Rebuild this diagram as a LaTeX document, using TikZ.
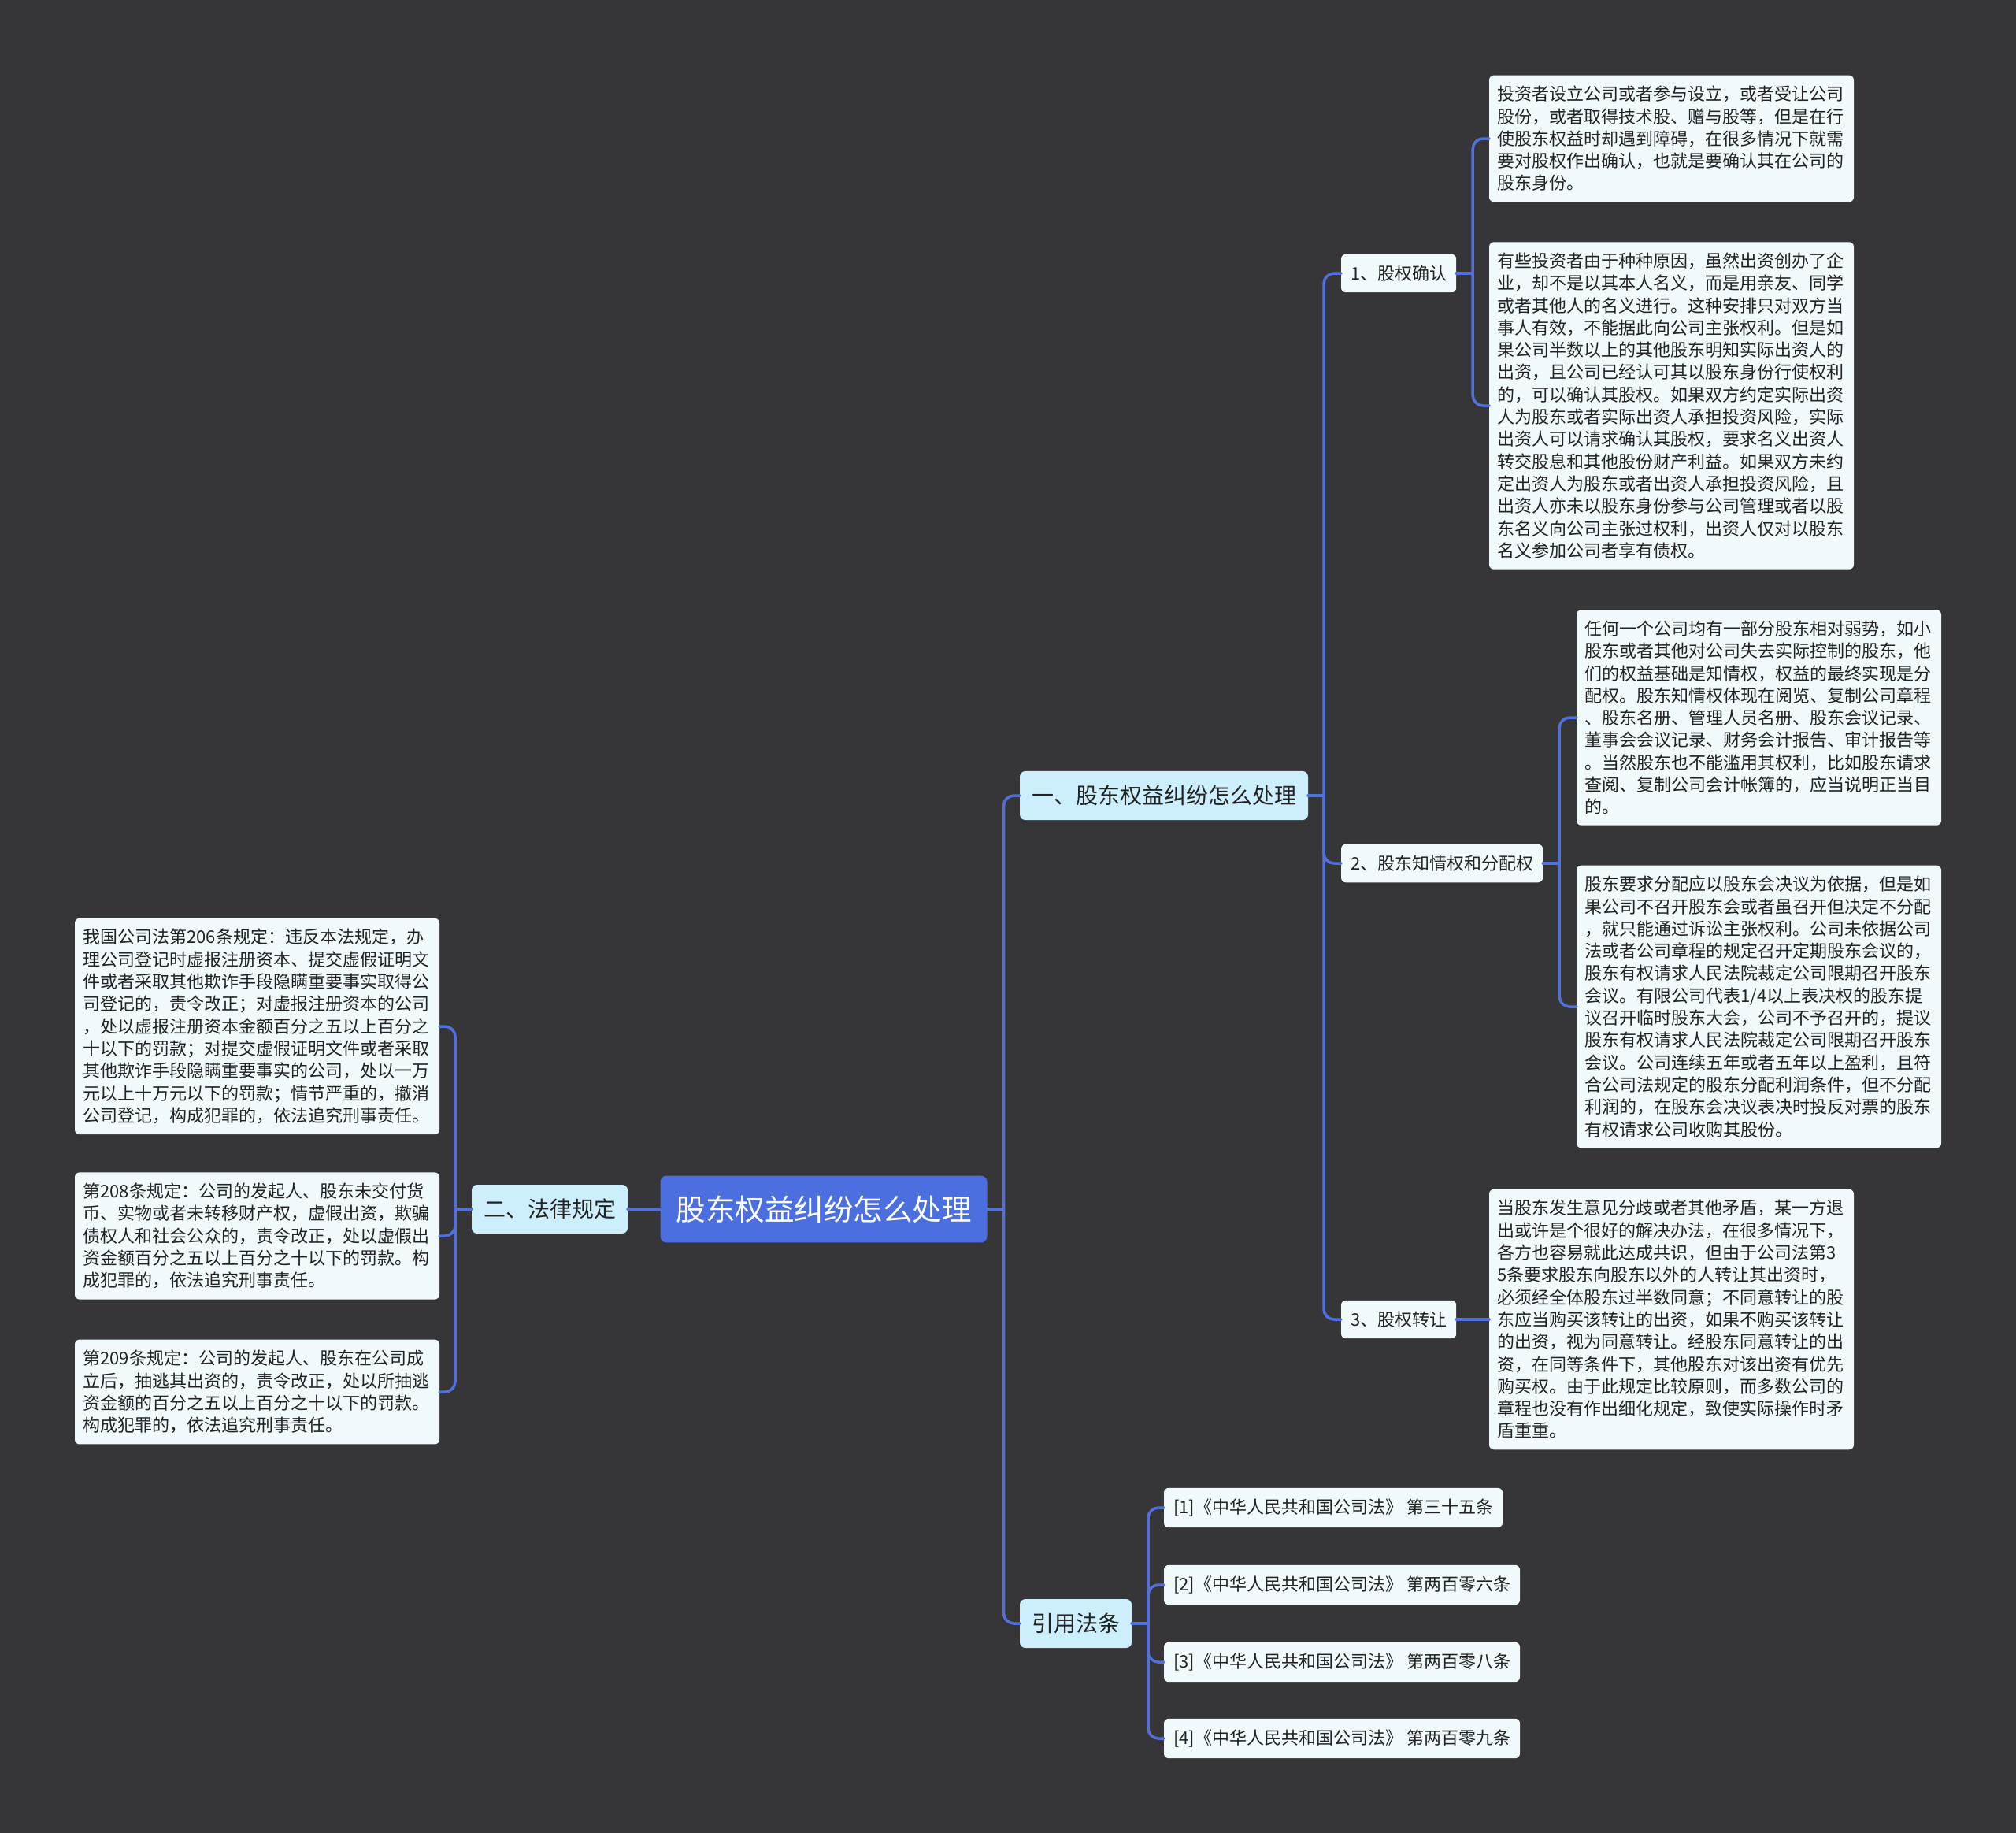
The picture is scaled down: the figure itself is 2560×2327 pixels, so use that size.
\documentclass[tikz,border=0pt]{standalone}
\usepackage{fontspec}
\setmainfont{Noto Sans CJK SC}
\usepackage{xcolor}
\definecolor{map-bg}{HTML}{363537}
\definecolor{map-blue}{HTML}{4C6FDF}
\definecolor{line-blue}{HTML}{5070DE}
\definecolor{branch-fill}{HTML}{CCEEFD}
\definecolor{leaf-fill}{HTML}{F0FAFD}
\definecolor{ink}{HTML}{222222}

\begin{document}
\begin{tikzpicture}[x=1pt, y=-1pt,
      every node/.style={inner sep=0pt, outer sep=0pt},
      topicbox/.style={fill=map-blue, rounded corners=8pt, text=white,
          font=\fontsize{37.5}{45}\selectfont, inner xsep=20pt, inner ysep=25pt},
      branchbox/.style={fill=branch-fill, rounded corners=7pt, text=ink,
          font=\fontsize{28}{34}\selectfont, inner xsep=15pt, inner ysep=18pt},
      subbox/.style={fill=leaf-fill, rounded corners=6pt, text=ink,
          font=\fontsize{22}{28.3}\selectfont, inner xsep=12pt, inner ysep=14pt},
      leafbox/.style={subbox, text width=442pt, align=left,
          inner xsep=10.5pt, inner ysep=13.5pt},
      linkline/.style={draw=line-blue, line width=3.5pt, rounded corners=13pt,
          line cap=round}]
    \fill[map-bg] (0,0) rectangle (2560,2327);

    \node[topicbox] (root) at (1046,1535) {股东权益纠纷怎么处理};
    \node[branchbox, anchor=east] (law) at (797,1535) {二、法律规定};
    \node[branchbox, anchor=west] (how) at (1295,1010) {一、股东权益纠纷怎么处理};
    \node[branchbox, anchor=west] (cite) at (1295,2061) {引用法条};

    \node[subbox, anchor=west] (confirm) at (1703,347) {1、股权确认};
    \node[subbox, anchor=west] (inform) at (1703,1096) {2、股东知情权和分配权};
    \node[subbox, anchor=west] (transfer) at (1703,1675) {3、股权转让};

    \node[leafbox, anchor=west] (confirmA) at (1891,176)
          {投资者设立公司或者参与设立，或者受让公司\\
           股份，或者取得技术股、赠与股等，但是在行\\
           使股东权益时却遇到障碍，在很多情况下就需\\
           要对股权作出确认，也就是要确认其在公司的\\
           股东身份。};
    \node[leafbox, anchor=west] (confirmB) at (1891,515)
          {有些投资者由于种种原因，虽然出资创办了企\\
           业，却不是以其本人名义，而是用亲友、同学\\
           或者其他人的名义进行。这种安排只对双方当\\
           事人有效，不能据此向公司主张权利。但是如\\
           果公司半数以上的其他股东明知实际出资人的\\
           出资，且公司已经认可其以股东身份行使权利\\
           的，可以确认其股权。如果双方约定实际出资\\
           人为股东或者实际出资人承担投资风险，实际\\
           出资人可以请求确认其股权，要求名义出资人\\
           转交股息和其他股份财产利益。如果双方未约\\
           定出资人为股东或者出资人承担投资风险，且\\
           出资人亦未以股东身份参与公司管理或者以股\\
           东名义向公司主张过权利，出资人仅对以股东\\
           名义参加公司者享有债权。};
    \node[leafbox, anchor=west] (informA) at (2002,911)
          {任何一个公司均有一部分股东相对弱势，如小\\
           股东或者其他对公司失去实际控制的股东，他\\
           们的权益基础是知情权，权益的最终实现是分\\
           配权。股东知情权体现在阅览、复制公司章程\\
           、股东名册、管理人员名册、股东会议记录、\\
           董事会会议记录、财务会计报告、审计报告等\\
           。当然股东也不能滥用其权利，比如股东请求\\
           查阅、复制公司会计帐簿的，应当说明正当目\\
           的。};
    \node[leafbox, anchor=west] (informB) at (2002,1278)
          {股东要求分配应以股东会决议为依据，但是如\\
           果公司不召开股东会或者虽召开但决定不分配\\
           ，就只能通过诉讼主张权利。公司未依据公司\\
           法或者公司章程的规定召开定期股东会议的，\\
           股东有权请求人民法院裁定公司限期召开股东\\
           会议。有限公司代表1/4以上表决权的股东提\\
           议召开临时股东大会，公司不予召开的，提议\\
           股东有权请求人民法院裁定公司限期召开股东\\
           会议。公司连续五年或者五年以上盈利，且符\\
           合公司法规定的股东分配利润条件，但不分配\\
           利润的，在股东会决议表决时投反对票的股东\\
           有权请求公司收购其股份。};
    \node[leafbox, anchor=west] (transferA) at (1891,1675)
          {当股东发生意见分歧或者其他矛盾，某一方退\\
           出或许是个很好的解决办法，在很多情况下，\\
           各方也容易就此达成共识，但由于公司法第3\\
           5条要求股东向股东以外的人转让其出资时，\\
           必须经全体股东过半数同意；不同意转让的股\\
           东应当购买该转让的出资，如果不购买该转让\\
           的出资，视为同意转让。经股东同意转让的出\\
           资，在同等条件下，其他股东对该出资有优先\\
           购买权。由于此规定比较原则，而多数公司的\\
           章程也没有作出细化规定，致使实际操作时矛\\
           盾重重。};

    \node[leafbox, anchor=east] (art206) at (558,1303)
          {我国公司法第206条规定：违反本法规定，办\\
           理公司登记时虚报注册资本、提交虚假证明文\\
           件或者采取其他欺诈手段隐瞒重要事实取得公\\
           司登记的，责令改正；对虚报注册资本的公司\\
           ，处以虚报注册资本金额百分之五以上百分之\\
           十以下的罚款；对提交虚假证明文件或者采取\\
           其他欺诈手段隐瞒重要事实的公司，处以一万\\
           元以上十万元以下的罚款；情节严重的，撤消\\
           公司登记，构成犯罪的，依法追究刑事责任。};
    \node[leafbox, anchor=east] (art208) at (558,1569)
          {第208条规定：公司的发起人、股东未交付货\\
           币、实物或者未转移财产权，虚假出资，欺骗\\
           债权人和社会公众的，责令改正，处以虚假出\\
           资金额百分之五以上百分之十以下的罚款。构\\
           成犯罪的，依法追究刑事责任。};
    \node[leafbox, anchor=east] (art209) at (558,1767)
          {第209条规定：公司的发起人、股东在公司成\\
           立后，抽逃其出资的，责令改正，处以所抽逃\\
           资金额的百分之五以上百分之十以下的罚款。\\
           构成犯罪的，依法追究刑事责任。};

    \node[subbox, anchor=west] (ref1) at (1478,1914) {[1]《中华人民共和国公司法》 第三十五条};
    \node[subbox, anchor=west] (ref2) at (1478,2012) {[2]《中华人民共和国公司法》 第两百零六条};
    \node[subbox, anchor=west] (ref3) at (1478,2110) {[3]《中华人民共和国公司法》 第两百零八条};
    \node[subbox, anchor=west] (ref4) at (1478,2207) {[4]《中华人民共和国公司法》 第两百零九条};

    \coordinate (rootR) at ([xshift=21pt]root.east);
    \coordinate (lawL) at ([xshift=-21pt]law.west);
    \coordinate (howR) at ([xshift=20pt]how.east);
    \coordinate (citeR) at ([xshift=21pt]cite.east);
    \coordinate (confirmR) at ([xshift=21pt]confirm.east);
    \coordinate (informR) at ([xshift=21pt]inform.east);

    \draw[linkline] (root.west) -- (law.east);
    \draw[linkline] (root.east) -- (rootR);
    \foreach \n in {how, cite}
      \draw[linkline] (rootR) |- (\n.west);
    \draw[linkline] (law.west) -- (lawL);
    \foreach \n in {art206, art208, art209}
      \draw[linkline] (lawL) |- (\n.east);
    \draw[linkline] (how.east) -- (howR);
    \foreach \n in {confirm, inform, transfer}
      \draw[linkline] (howR) |- (\n.west);
    \draw[linkline] (confirm.east) -- (confirmR);
    \foreach \n in {confirmA, confirmB}
      \draw[linkline] (confirmR) |- (\n.west);
    \draw[linkline] (inform.east) -- (informR);
    \foreach \n in {informA, informB}
      \draw[linkline] (informR) |- (\n.west);
    \draw[linkline] (transfer.east) -- (transferA.west);
    \draw[linkline] (cite.east) -- (citeR);
    \foreach \n in {ref1, ref2, ref3, ref4}
      \draw[linkline] (citeR) |- (\n.west);
  \end{tikzpicture}
\end{document}
